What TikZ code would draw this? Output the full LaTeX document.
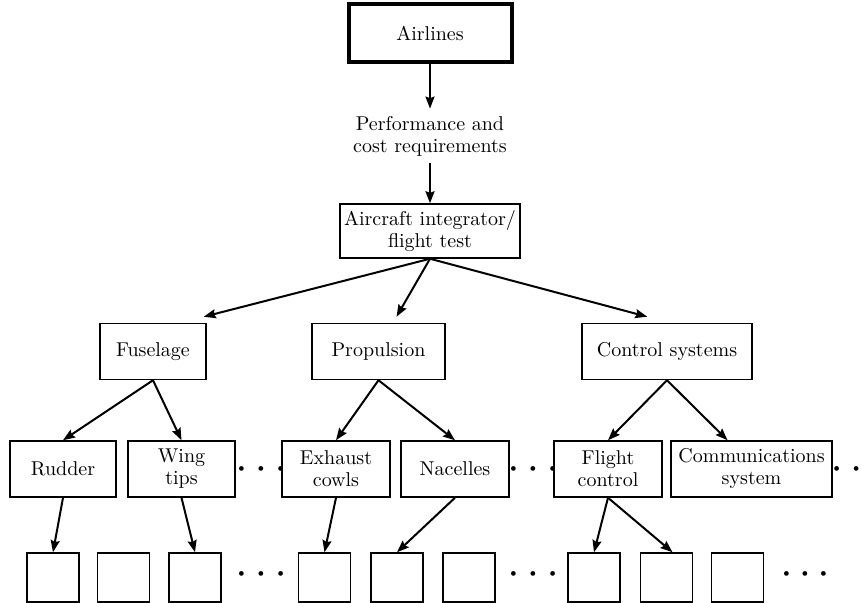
\documentclass[tikz,border=0pt]{standalone}
\usetikzlibrary{arrows.meta,calc}
\begin{document}
\begin{tikzpicture}[x=0.5pt,y=-0.5pt,
  every node/.style={font=\fontsize{10}{11}\selectfont, align=center, inner sep=0pt},
  box/.style={draw, line width=0.75pt, minimum height=28pt},
  topbox/.style={draw, line width=2pt},
  leaf/.style={draw, line width=0.75pt, minimum width=26pt, minimum height=24.5pt},
  arr/.style={line width=1pt, -{Stealth[length=6pt,width=4.5pt,inset=0.8pt]}},
  dotsn/.style={font=\fontsize{8}{8}\selectfont}
]
\useasboundingbox (0,0) rectangle (861,603);

% top
\node[topbox, minimum width=81.5pt, minimum height=29pt] (airlines) at (430,33) {Airlines};
\node (perf) at (430,136) {Performance and\\cost requirements};
\node[box, minimum width=90pt, minimum height=27pt] (integ) at (430,231) {Aircraft integrator/\\flight test};

% level 2
\node[box, minimum width=53pt] (fus) at (153,351.5) {Fuselage};
\node[box, minimum width=66.5pt] (prop) at (378.5,351.5) {Propulsion};
\node[box, minimum width=85pt] (ctrl) at (667,351.5) {Control systems};

% level 3
\node[box, minimum width=53pt] (rudder) at (63,469) {Rudder};
\node[box, minimum width=53.5pt] (wing) at (181.5,469) {Wing\\tips};
\node[dotsn] (d1) at (261,470) {\textbullet\hspace{3.2pt}\textbullet\hspace{3.2pt}\textbullet};
\node[box, minimum width=54pt] (exh) at (336,469) {Exhaust\\cowls};
\node[box, minimum width=54pt] (nac) at (455,469) {Nacelles};
\node[dotsn] (d2) at (533,470) {\textbullet\hspace{3.2pt}\textbullet\hspace{3.2pt}\textbullet};
\node[box, minimum width=54pt] (flight) at (608,469) {Flight\\control};
\node[box, minimum width=80.5pt] (comms) at (751.5,469) {Communications\\system};
\node[dotsn] (d3) at (846.5,470) {\textbullet\hspace{3.2pt}\textbullet};

% level 4
\node[leaf] (b1) at (53,577.5) {};
\node[leaf] (b2) at (123.5,577.5) {};
\node[leaf] (b3) at (195,577.5) {};
\node[dotsn] (d4) at (261,575) {\textbullet\hspace{3.2pt}\textbullet\hspace{3.2pt}\textbullet};
\node[leaf] (b4) at (324.5,577.5) {};
\node[leaf] (b5) at (397,577.5) {};
\node[leaf] (b6) at (469,577.5) {};
\node[dotsn] (d5) at (533,575) {\textbullet\hspace{3.2pt}\textbullet\hspace{3.2pt}\textbullet};
\node[leaf] (b7) at (594,577.5) {};
\node[leaf] (b8) at (666.5,577.5) {};
\node[leaf] (b9) at (737.5,577.5) {};
\node[dotsn] (d6) at (805,575) {\textbullet\hspace{2.6pt}\textbullet\hspace{2.6pt}\textbullet};

% connectors
\draw[arr] (airlines.south) -- ($(perf.north)+(0,-7)$);
\draw[arr] ($(perf.south)+(0,7)$) -- (integ.north);
\draw[arr] (integ.south) -- ($(fus.north east)+(-3,-6)$);
\draw[arr] (integ.south) -- ($(prop.north)+(18,-6)$);
\draw[arr] (integ.south) -- ($(ctrl.north west)+(66,-6)$);

\draw[arr] (fus.south) -- (rudder.north);
\draw[arr] (fus.south) -- (wing.north);
\draw[arr] (prop.south) -- (exh.north);
\draw[arr] (prop.south) -- (nac.north);
\draw[arr] (ctrl.south) -- (flight.north);
\draw[arr] (ctrl.south) -- ($(comms.north)+(-24,0)$);

\draw[arr] (rudder.south) -- (b1.north);
\draw[arr] (wing.south) -- (b3.north);
\draw[arr] (exh.south) -- (b4.north);
\draw[arr] (nac.south) -- (b5.north);
\draw[arr] (flight.south) -- (b7.north);
\draw[arr] (flight.south) -- ($(b8.north)+(6,0)$);
\end{tikzpicture}
\end{document}
